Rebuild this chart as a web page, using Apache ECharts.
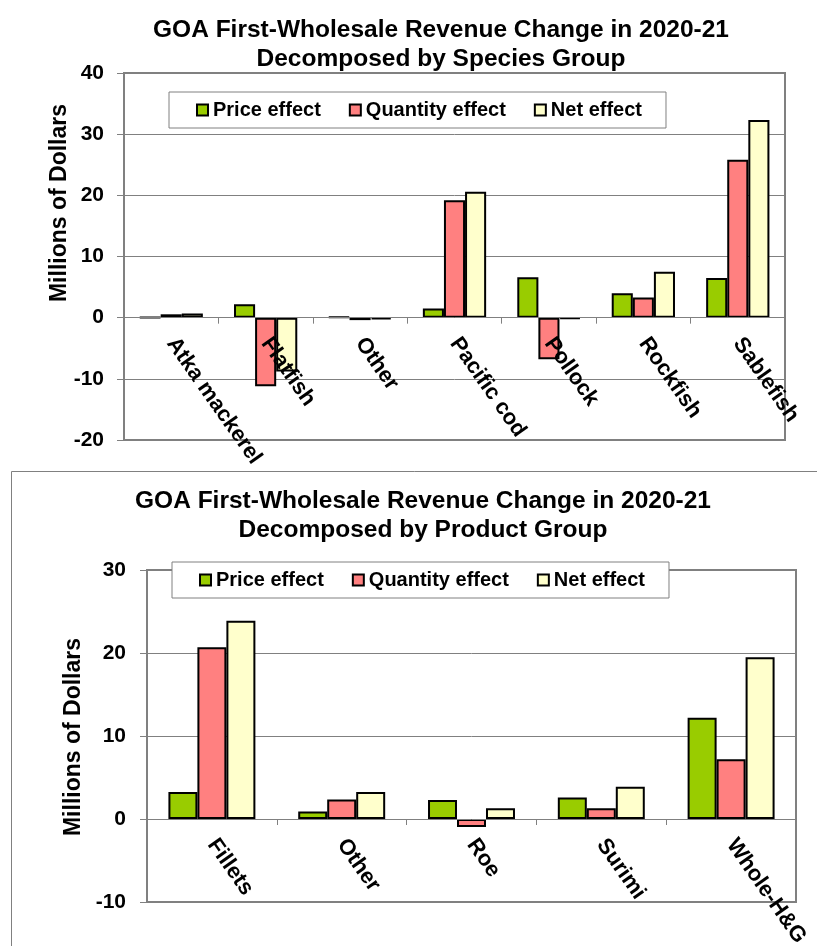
<!DOCTYPE html>
<html>
<head>
<meta charset="utf-8">
<script src="https://cdn.jsdelivr.net/npm/echarts@6/dist/echarts.min.js"></script>
<style>
html,body{margin:0;padding:0;background:#fff;}
#chart{width:817px;height:946px;}
</style>
</head>
<body>
<div id="chart"></div>
<script>
const seriesNames = ['Price effect', 'Quantity effect', 'Net effect'];
const seriesColors = ['#99CC00', '#FF8080', '#FFFFCC'];

const speciesCategories = ['Atka mackerel', 'Flatfish', 'Other', 'Pacific cod', 'Pollock', 'Rockfish', 'Sablefish'];
const speciesPrice    = [0.05, 2.2, 0.1, 1.5, 6.6, 4.0, 6.5];
const speciesQuantity = [0.55, -11.2, -0.4, 19.2, -6.8, 3.3, 25.8];
const speciesNet      = [0.7, -8.8, -0.3, 20.6, -0.2, 7.5, 32.3];
const speciesTicks    = [-20, -10, 0, 10, 20, 30, 40];

const productCategories = ['Fillets', 'Other', 'Roe', 'Surimi', 'Whole-H&G'];
const productPrice    = [3.25, 0.9, 2.3, 2.6, 12.2];
const productQuantity = [20.7, 2.35, -0.95, 1.3, 7.2];
const productNet      = [23.9, 3.25, 1.3, 3.9, 19.5];
const productTicks    = [-10, 0, 10, 20, 30];

const titleTop = 'GOA First-Wholesale Revenue Change in 2020-21\nDecomposed by Species Group';
const titleBottom = 'GOA First-Wholesale Revenue Change in 2020-21\nDecomposed by Product Group';
const yName = 'Millions of Dollars';

const FONT = 'Liberation Sans, Arial, sans-serif';
const W = 817, H = 946;
const grids = [
  {left: 124, top: 73, right: 32, bottom: 506},
  {left: 147, top: 570, right: 21, bottom: 44}
];
const chart = echarts.init(document.getElementById('chart'), null, {renderer: 'canvas'});

function makeBars(idx, dataArr) {
  return dataArr.map((d, i) => ({
    name: seriesNames[i],
    type: 'bar',
    xAxisIndex: idx,
    yAxisIndex: idx,
    data: d,
    barGap: '0%',
    barCategoryGap: '33%',
    itemStyle: {color: seriesColors[i], borderColor: '#000', borderWidth: 2},
    emphasis: {disabled: true},
    animation: false
  }));
}

function makeLegend(left, top) {
  return {
    data: seriesNames,
    left: left, top: top,
    orient: 'horizontal',
    backgroundColor: '#fff',
    borderColor: '#808080',
    borderWidth: 1,
    padding: [8, 24, 8, 27],
    itemGap: 28,
    itemWidth: 11,
    itemHeight: 11,
    icon: 'rect',
    selectedMode: false,
    itemStyle: {borderColor: '#000', borderWidth: 2},
    textStyle: {fontFamily: FONT, fontSize: 20, fontWeight: 'bold', color: '#000'}
  };
}

// labels sit just below the zero line (category axis crosses at 0)
function labelMargin(idx, ticks) {
  const g = grids[idx];
  const h = H - g.top - g.bottom;
  const min = ticks[0], max = ticks[ticks.length - 1];
  const zeroFromBottom = h * (0 - min) / (max - min);
  return 22 - zeroFromBottom;
}

function makeXAxis(idx, cats, ticks) {
  return {
    type: 'category',
    gridIndex: idx,
    data: cats,
    z: 5,
    axisLine: {onZero: true, lineStyle: {color: '#808080', width: 1}},
    axisTick: {show: true, length: 6, lineStyle: {color: '#808080'}},
    axisLabel: {
      interval: 0, rotate: -55, margin: labelMargin(idx, ticks),
      fontFamily: FONT, fontSize: 22, fontWeight: 'bold', color: '#000'
    },
    splitLine: {show: false}
  };
}

function makeYAxis(idx, ticks, margin) {
  return {
    type: 'value',
    gridIndex: idx,
    min: ticks[0],
    max: ticks[ticks.length - 1],
    interval: ticks[1] - ticks[0],
    axisLine: {show: true, onZero: false, lineStyle: {color: '#808080', width: 2}},
    axisTick: {show: true, length: 7, lineStyle: {color: '#808080'}},
    axisLabel: {margin: margin, fontFamily: FONT, fontSize: 21, fontWeight: 'bold', color: '#000'},
    splitLine: {show: true, lineStyle: {color: '#808080', width: 1}}
  };
}

const option = {
  backgroundColor: '#fff',
  animation: false,
  title: [
    {text: titleTop, left: 436, top: 11, textAlign: 'center',
     textStyle: {fontFamily: FONT, fontSize: 24.5, fontWeight: 'bold', color: '#000', lineHeight: 29}},
    {text: titleBottom, left: 418, top: 482, textAlign: 'center',
     textStyle: {fontFamily: FONT, fontSize: 24.5, fontWeight: 'bold', color: '#000', lineHeight: 29}}
  ],
  legend: [makeLegend(169, 92), makeLegend(172, 562)],
  grid: grids.map(g => Object.assign({}, g, {
    show: true, borderColor: '#808080', borderWidth: 2, backgroundColor: 'transparent',
    outerBoundsMode: 'none', containLabel: false
  })),
  xAxis: [makeXAxis(0, speciesCategories, speciesTicks), makeXAxis(1, productCategories, productTicks)],
  yAxis: [makeYAxis(0, speciesTicks, 20), makeYAxis(1, productTicks, 21)],
  graphic: [
    {type: 'rect', silent: true, z: -1,
     shape: {x: 11.5, y: 471.5, width: 900, height: 600},
     style: {fill: 'none', stroke: '#808080', lineWidth: 1}},
    {type: 'text', silent: true, x: 60, y: 203, rotation: Math.PI / 2,
     style: {text: yName, font: 'bold 23px ' + FONT, fill: '#000', align: 'center', verticalAlign: 'middle'}},
    {type: 'text', silent: true, x: 74, y: 737, rotation: Math.PI / 2,
     style: {text: yName, font: 'bold 23px ' + FONT, fill: '#000', align: 'center', verticalAlign: 'middle'}}
  ],
  series: [
    ...makeBars(0, [speciesPrice, speciesQuantity, speciesNet]),
    ...makeBars(1, [productPrice, productQuantity, productNet])
  ]
};
chart.setOption(option);
</script>
</body>
</html>
